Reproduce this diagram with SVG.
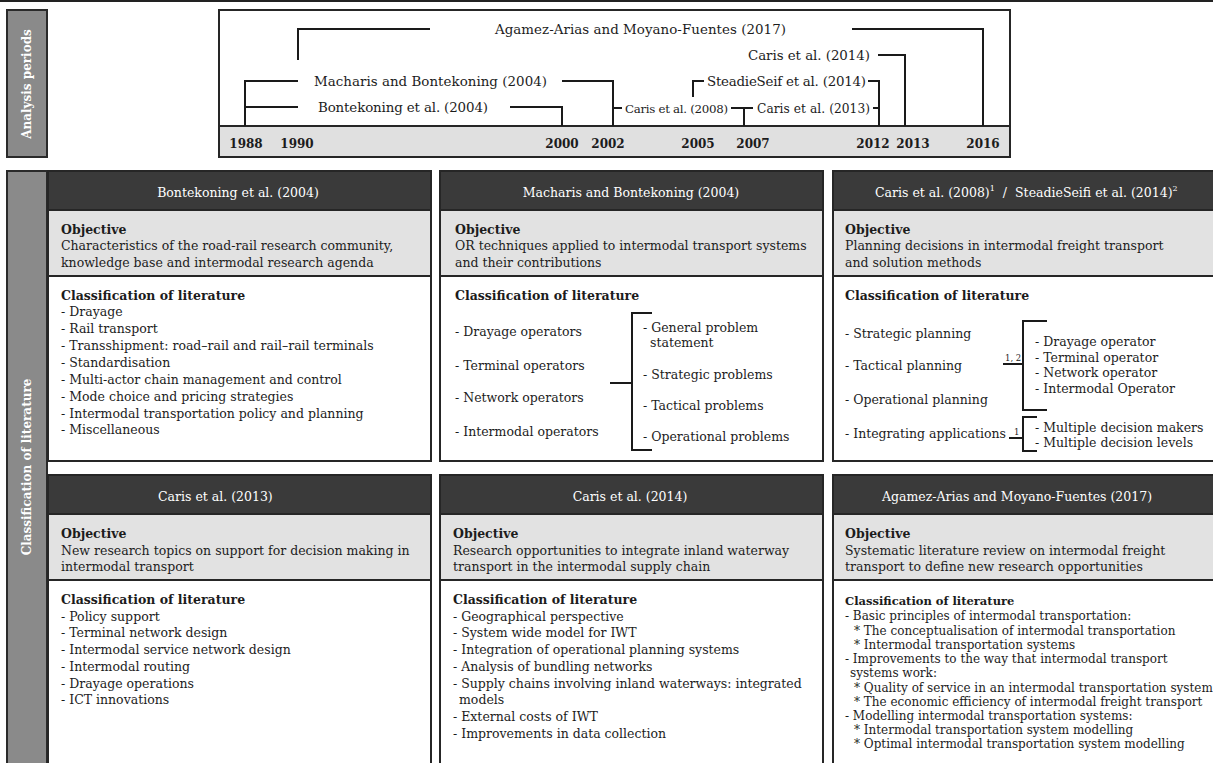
<svg xmlns="http://www.w3.org/2000/svg" width="1213" height="763" viewBox="0 0 1213 763">
<style>
text{font-family:"DejaVu Serif","Liberation Serif",serif;fill:#1c1c1c}
.tl{font-size:13.4px}
.tls{font-size:12.2px}
.tlx{font-size:11.8px}
.yr{font-size:12px;font-weight:bold}
.hd{font-size:12.5px;fill:#ffffff}
.tx{font-size:12.5px}
.b{font-size:12.5px;font-weight:bold}
.sm{font-size:12px}
.smb{font-size:11.5px;font-weight:bold}
.lbl{font-size:8.5px}
.side{font-size:12px;font-weight:bold;fill:#ffffff}
.sup{font-size:8px;fill:#ffffff}
.frame{fill:none;stroke:#262626;stroke-width:2}
.hdr{fill:#3a3a3a}
.obj{fill:#e2e2e2}
.wht{fill:#ffffff}
.sep{stroke:#262626;stroke-width:2}
.ln{fill:none;stroke:#1a1a1a;stroke-width:2}
</style>
<rect x="0" y="0" width="1213" height="763" fill="#ffffff"/>
<rect x="0" y="0" width="1213" height="2" fill="#222222"/>

<g id="sidebar-analysis">
<rect x="7" y="10" width="40" height="147" fill="#8a8a8a" stroke="#2a2a2a" stroke-width="2"/>
<text class="side" text-anchor="middle" transform="translate(31,84) rotate(-90)">Analysis periods</text>
</g>

<g id="sidebar-classification">
<rect x="7" y="171" width="40" height="600" fill="#8a8a8a" stroke="#2a2a2a" stroke-width="2"/>
<text class="side" text-anchor="middle" transform="translate(31,467) rotate(-90)">Classification of literature</text>
</g>

<g id="timeline">
<rect x="219" y="10" width="791" height="147" fill="#ffffff"/>
<rect x="219" y="126" width="791" height="31" fill="#e0e0e0"/>
<line x1="219" y1="126" x2="1010" y2="126" class="sep"/>
<rect x="219" y="10" width="791" height="147" class="frame"/>
<text class="yr" x="246" y="148" text-anchor="middle">1988</text>
<text class="yr" x="297" y="148" text-anchor="middle">1990</text>
<text class="yr" x="562" y="148" text-anchor="middle">2000</text>
<text class="yr" x="608" y="148" text-anchor="middle">2002</text>
<text class="yr" x="698" y="148" text-anchor="middle">2005</text>
<text class="yr" x="753" y="148" text-anchor="middle">2007</text>
<text class="yr" x="873" y="148" text-anchor="middle">2012</text>
<text class="yr" x="913" y="148" text-anchor="middle">2013</text>
<text class="yr" x="983" y="148" text-anchor="middle">2016</text>
<text class="tl" x="495" y="34" textLength="291">Agamez-Arias and Moyano-Fuentes (2017)</text>
<text class="tl" x="748" y="60" textLength="122">Caris et al. (2014)</text>
<text class="tl" x="314" y="86" textLength="233">Macharis and Bontekoning (2004)</text>
<text class="tl" x="707" y="86" textLength="159">SteadieSeif et al. (2014)</text>
<text class="tl" x="318" y="112" textLength="170">Bontekoning et al. (2004)</text>
<text class="tlx" x="625" y="113" textLength="103">Caris et al. (2008)</text>
<text class="tls" x="757" y="113" textLength="113">Caris et al. (2013)</text>
</g>

<g id="panel-bontekoning">
<rect x="48" y="171" width="383" height="39" class="hdr"/>
<rect x="48" y="210" width="383" height="66" class="obj"/>
<rect x="48" y="276" width="383" height="185" class="wht"/>
<line x1="48" y1="210" x2="431" y2="210" class="sep"/>
<line x1="48" y1="276" x2="431" y2="276" class="sep"/>
<rect x="48" y="171" width="383" height="290" class="frame"/>
<text class="hd" x="238" y="197" text-anchor="middle">Bontekoning et al. (2004)</text>
<text class="b" x="61" y="234">Objective</text>
<text class="tx" x="61" y="250">Characteristics of the road-rail research community,</text>
<text class="tx" x="61" y="267">knowledge base and intermodal research agenda</text>
<text class="b" x="61" y="300">Classification of literature</text>
<text class="tx" x="61" y="316">- Drayage</text>
<text class="tx" x="61" y="333">- Rail transport</text>
<text class="tx" x="61" y="350">- Transshipment: road–rail and rail–rail terminals</text>
<text class="tx" x="61" y="367">- Standardisation</text>
<text class="tx" x="61" y="384">- Multi-actor chain management and control</text>
<text class="tx" x="61" y="401">- Mode choice and pricing strategies</text>
<text class="tx" x="61" y="418">- Intermodal transportation policy and planning</text>
<text class="tx" x="61" y="434">- Miscellaneous</text>
</g>

<g id="panel-macharis">
<rect x="440" y="171" width="383" height="39" class="hdr"/>
<rect x="440" y="210" width="383" height="66" class="obj"/>
<rect x="440" y="276" width="383" height="185" class="wht"/>
<line x1="440" y1="210" x2="823" y2="210" class="sep"/>
<line x1="440" y1="276" x2="823" y2="276" class="sep"/>
<rect x="440" y="171" width="383" height="290" class="frame"/>
<text class="hd" x="631" y="197" text-anchor="middle">Macharis and Bontekoning (2004)</text>
<text class="b" x="455" y="234">Objective</text>
<text class="tx" x="455" y="250">OR techniques applied to intermodal transport systems</text>
<text class="tx" x="455" y="267">and their contributions</text>
<text class="b" x="455" y="300">Classification of literature</text>
<text class="tx" x="455" y="336">- Drayage operators</text>
<text class="tx" x="455" y="370">- Terminal operators</text>
<text class="tx" x="455" y="402">- Network operators</text>
<text class="tx" x="455" y="436">- Intermodal operators</text>
<text class="tx" x="643" y="332">- General problem</text>
<text class="tx" x="650" y="347">statement</text>
<text class="tx" x="643" y="379">- Strategic problems</text>
<text class="tx" x="643" y="410">- Tactical problems</text>
<text class="tx" x="643" y="441">- Operational problems</text>
</g>

<g id="panel-caris-steadieseifi">
<rect x="833" y="171" width="383" height="39" class="hdr"/>
<rect x="833" y="210" width="383" height="66" class="obj"/>
<rect x="833" y="276" width="383" height="185" class="wht"/>
<line x1="833" y1="210" x2="1216" y2="210" class="sep"/>
<line x1="833" y1="276" x2="1216" y2="276" class="sep"/>
<rect x="833" y="171" width="383" height="290" class="frame"/>
<text class="hd" x="875" y="197">Caris et al. (2008)<tspan class="sup" dy="-6">1</tspan><tspan dx="8" dy="6">/</tspan><tspan dx="8">SteadieSeifi et al. (2014)</tspan><tspan class="sup" dy="-6">2</tspan></text>
<text class="b" x="845" y="234">Objective</text>
<text class="tx" x="845" y="250">Planning decisions in intermodal freight transport</text>
<text class="tx" x="845" y="267">and solution methods</text>
<text class="b" x="845" y="300">Classification of literature</text>
<text class="tx" x="845" y="338">- Strategic planning</text>
<text class="tx" x="845" y="370">- Tactical planning</text>
<text class="tx" x="845" y="404">- Operational planning</text>
<text class="tx" x="845" y="438">- Integrating applications</text>
<text class="tx" x="1035" y="346">- Drayage operator</text>
<text class="tx" x="1035" y="362">- Terminal operator</text>
<text class="tx" x="1035" y="377">- Network operator</text>
<text class="tx" x="1035" y="393">- Intermodal Operator</text>
<text class="tx" x="1035" y="432">- Multiple decision makers</text>
<text class="tx" x="1035" y="447">- Multiple decision levels</text>
</g>

<g id="panel-caris-2013">
<rect x="48" y="475" width="383" height="39" class="hdr"/>
<rect x="48" y="514" width="383" height="66" class="obj"/>
<rect x="48" y="580" width="383" height="190" class="wht"/>
<line x1="48" y1="514" x2="431" y2="514" class="sep"/>
<line x1="48" y1="580" x2="431" y2="580" class="sep"/>
<rect x="48" y="475" width="383" height="295" class="frame"/>
<text class="hd" x="158" y="501">Caris et al. (2013)</text>
<text class="b" x="61" y="538">Objective</text>
<text class="tx" x="61" y="555">New research topics on support for decision making in</text>
<text class="tx" x="61" y="571">intermodal transport</text>
<text class="b" x="61" y="604">Classification of literature</text>
<text class="tx" x="61" y="621">- Policy support</text>
<text class="tx" x="61" y="637">- Terminal network design</text>
<text class="tx" x="61" y="654">- Intermodal service network design</text>
<text class="tx" x="61" y="671">- Intermodal routing</text>
<text class="tx" x="61" y="688">- Drayage operations</text>
<text class="tx" x="61" y="704">- ICT innovations</text>
</g>

<g id="panel-caris-2014">
<rect x="440" y="475" width="383" height="39" class="hdr"/>
<rect x="440" y="514" width="383" height="66" class="obj"/>
<rect x="440" y="580" width="383" height="190" class="wht"/>
<line x1="440" y1="514" x2="823" y2="514" class="sep"/>
<line x1="440" y1="580" x2="823" y2="580" class="sep"/>
<rect x="440" y="475" width="383" height="295" class="frame"/>
<text class="hd" x="630" y="501" text-anchor="middle">Caris et al. (2014)</text>
<text class="b" x="453" y="538">Objective</text>
<text class="tx" x="453" y="555">Research opportunities to integrate inland waterway</text>
<text class="tx" x="453" y="571">transport in the intermodal supply chain</text>
<text class="b" x="453" y="604">Classification of literature</text>
<text class="tx" x="453" y="621">- Geographical perspective</text>
<text class="tx" x="453" y="637">- System wide model for IWT</text>
<text class="tx" x="453" y="654">- Integration of operational planning systems</text>
<text class="tx" x="453" y="671">- Analysis of bundling networks</text>
<text class="tx" x="453" y="688">- Supply chains involving inland waterways: integrated</text>
<text class="tx" x="459" y="704">models</text>
<text class="tx" x="453" y="721">- External costs of IWT</text>
<text class="tx" x="453" y="738">- Improvements in data collection</text>
</g>

<g id="panel-agamez">
<rect x="833" y="475" width="383" height="39" class="hdr"/>
<rect x="833" y="514" width="383" height="66" class="obj"/>
<rect x="833" y="580" width="383" height="190" class="wht"/>
<line x1="833" y1="514" x2="1216" y2="514" class="sep"/>
<line x1="833" y1="580" x2="1216" y2="580" class="sep"/>
<rect x="833" y="475" width="383" height="295" class="frame"/>
<text class="hd" x="1017" y="501" text-anchor="middle">Agamez-Arias and Moyano-Fuentes (2017)</text>
<text class="b" x="845" y="538">Objective</text>
<text class="tx" x="845" y="555">Systematic literature review on intermodal freight</text>
<text class="tx" x="845" y="571">transport to define new research opportunities</text>
<text class="smb" x="845" y="605">Classification of literature</text>
<text class="sm" x="845" y="620">- Basic principles of intermodal transportation:</text>
<text class="sm" x="854" y="635">* The conceptualisation of intermodal transportation</text>
<text class="sm" x="854" y="649">* Intermodal transportation systems</text>
<text class="sm" x="845" y="663">- Improvements to the way that intermodal transport</text>
<text class="sm" x="850" y="677">systems work:</text>
<text class="sm" x="854" y="692">* Quality of service in an intermodal transportation system</text>
<text class="sm" x="854" y="706">* The economic efficiency of intermodal freight transport</text>
<text class="sm" x="845" y="720">- Modelling intermodal transportation systems:</text>
<text class="sm" x="854" y="734">* Intermodal transportation system modelling</text>
<text class="sm" x="854" y="748">* Optimal intermodal transportation system modelling</text>
</g>

<g id="connectors">
<path class="ln" d="M298,60 V29 H430"/>
<path class="ln" d="M852,29 H983 V126"/>
<path class="ln" d="M878,55 H905 V126"/>
<path class="ln" d="M245,126 V81 H298"/>
<path class="ln" d="M245,107 H298"/>
<path class="ln" d="M562,81 H613 V126"/>
<path class="ln" d="M510,107 H562 V126"/>
<path class="ln" d="M693,97 V81 H704"/>
<path class="ln" d="M868,81 H879 V126"/>
<path class="ln" d="M613,108 H622"/>
<path class="ln" d="M731,108 H753 M744,108 V126"/>
<path class="ln" d="M873,108 H879"/>
<path class="ln" d="M610,383 H632 M652,313 H632 V450 H652"/>
<path class="ln" d="M1003,364 H1023 M1047,321 H1023 V410 H1047"/>
<path class="ln" d="M1009,438 H1023 M1037,417 H1023 V451 H1037"/>
<text class="lbl" x="1005" y="361">1, 2</text>
<text class="lbl" x="1014" y="435">1</text>
</g>
</svg>
